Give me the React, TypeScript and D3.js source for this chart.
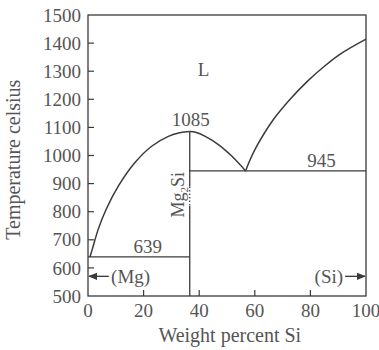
import React from 'react';
import * as d3 from 'd3';

// ticks
const xTicks = [0, 20, 40, 60, 80, 100];
const yTicks = [500, 600, 700, 800, 900, 1000, 1100, 1200, 1300, 1400, 1500];

// liquidus branches [wt% Si, °C]
const mgLiquidus = [[0.7, 639], [1.5, 665], [3.7, 738], [6.5, 808], [10.9, 891], [16.9, 975], [22.9, 1033], [28.9, 1068], [33, 1081], [36.6, 1085]];
const compoundLiquidus = [[36.6, 1085], [39, 1082], [42, 1069], [46.9, 1039], [51.7, 998], [56.7, 945]];
const siLiquidus = [[56.7, 945], [58, 978], [60.7, 1033], [66.7, 1128], [72.7, 1200], [78.7, 1262], [84.6, 1314], [90.6, 1360], [100, 1414]];

// invariant lines
const compoundX = 36.6;
const mgEutectic = 639;
const siEutectic = 945;
const compoundMelt = 1085;

const W = 379;
const H = 350;
const margin = { top: 15, right: 13, bottom: 54, left: 88 };
const ink = '#3a3a3a';
const textInk = '#555';
const font = "'Liberation Serif', 'Times New Roman', 'DejaVu Serif', serif";

export default function App() {
  const x = d3.scaleLinear().domain([0, 100]).range([margin.left, W - margin.right]);
  const y = d3.scaleLinear().domain([500, 1500]).range([H - margin.bottom, margin.top]);

  const line = d3.line<number[]>()
    .x(d => x(d[0]))
    .y(d => y(d[1]))
    .curve(d3.curveCatmullRom.alpha(0.5));

  const x0 = x(0), x1 = x(100), y0 = y(500), y1 = y(1500);
  const t = (size: number) => ({ fontFamily: font, fontSize: size, fill: textInk });

  return (
    <svg width={W} height={H} style={{ position: 'absolute', left: 0, top: 0, background: '#fff' }}>
      <defs>
        <marker id="arr" viewBox="0 0 10 10" refX="9" refY="5" markerWidth="7" markerHeight="7" orient="auto-start-reverse">
          <path d="M0,1 L10,5 L0,9 z" fill={ink} />
        </marker>
      </defs>

      {/* frame */}
      <rect x={x0} y={y1} width={x1 - x0} height={y0 - y1} fill="none" stroke={ink} strokeWidth={1.3} />

      {/* y ticks, pointing inward */}
      {yTicks.map(v => (
        <g key={'y' + v}>
          {v > 500 && v < 1500 && <line x1={x0} x2={x0 + 6} y1={y(v)} y2={y(v)} stroke={ink} strokeWidth={1.2} />}
          <text x={x0 - 7} y={y(v)} dy="0.35em" textAnchor="end" style={t(19)}>{v}</text>
        </g>
      ))}

      {/* x ticks */}
      {xTicks.map(v => (
        <g key={'x' + v}>
          {v > 0 && v < 100 && <line x1={x(v)} x2={x(v)} y1={y0} y2={y0 - 6} stroke={ink} strokeWidth={1.2} />}
          <text x={x(v)} y={y0 + 21} textAnchor="middle" style={t(19)}>{v}</text>
        </g>
      ))}

      {/* liquidus curves */}
      <path d={line(mgLiquidus) || ''} fill="none" stroke={ink} strokeWidth={1.5} />
      <path d={line(compoundLiquidus) || ''} fill="none" stroke={ink} strokeWidth={1.5} />
      <path d={line(siLiquidus) || ''} fill="none" stroke={ink} strokeWidth={1.5} />

      {/* eutectic horizontals */}
      <line x1={x0} x2={x(compoundX)} y1={y(mgEutectic)} y2={y(mgEutectic)} stroke={ink} strokeWidth={1.3} />
      <line x1={x(compoundX)} x2={x1} y1={y(siEutectic)} y2={y(siEutectic)} stroke={ink} strokeWidth={1.3} />

      {/* Mg2Si compound line */}
      <line x1={x(compoundX)} x2={x(compoundX)} y1={y(compoundMelt)} y2={y(890)} stroke={ink} strokeWidth={1.3} />
      <line x1={x(compoundX)} x2={x(compoundX)} y1={y(890)} y2={y(820)} stroke={ink} strokeWidth={1.2} strokeDasharray="1.5,2" />
      <line x1={x(compoundX)} x2={x(compoundX)} y1={y(820)} y2={y0} stroke={ink} strokeWidth={1.3} />

      {/* labels */}
      <text x={x(39.5)} y={y(1282)} style={t(19)}>L</text>
      <text x={x(compoundX) + 1} y={y(compoundMelt) - 6} textAnchor="middle" style={t(19)}>1085</text>
      <text x={x(84)} y={y(siEutectic) - 4} textAnchor="middle" style={t(19)}>945</text>
      <text x={x(21.5)} y={y(mgEutectic) - 4} textAnchor="middle" style={t(19)}>639</text>
      <text transform={`translate(${x(compoundX) - 6},${y(860)}) rotate(-90)`} textAnchor="middle" style={t(18)}>
        Mg<tspan style={{ fontSize: 11 }} dy="4">2</tspan><tspan dy="-4">Si</tspan>
      </text>

      {/* phase arrows */}
      <line x1={x(7.5)} x2={x0 + 1} y1={y(570)} y2={y(570)} stroke={ink} strokeWidth={1.3} markerEnd="url(#arr)" />
      <text x={x(8.3)} y={y(570)} dy="0.35em" style={t(19)}>(Mg)</text>
      <text x={x(81.5)} y={y(570)} dy="0.35em" style={t(19)}>(Si)</text>
      <line x1={x(92.5)} x2={x1 - 1} y1={y(570)} y2={y(570)} stroke={ink} strokeWidth={1.3} markerEnd="url(#arr)" />

      {/* axis titles */}
      <text x={x(51)} y={H - 8} textAnchor="middle" style={t(20)}>Weight percent Si</text>
      <text transform={`translate(20,${y(985)}) rotate(-90)`} textAnchor="middle" style={t(20)}>Temperature celsius</text>
    </svg>
  );
}
